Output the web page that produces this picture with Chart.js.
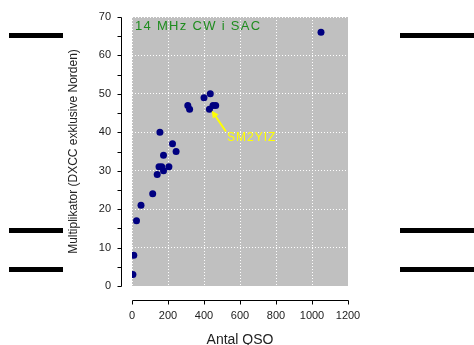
<!DOCTYPE html>
<html>
<head>
<meta charset="utf-8">
<script src="https://cdn.jsdelivr.net/npm/chart.js@4/dist/chart.umd.min.js"></script>
<style>
  html, body { margin: 0; padding: 0; background: #fff; }
  #wrap { position: relative; width: 474px; height: 345px; }
  canvas { position: absolute; left: 0; top: 0; }
  .bar { position: absolute; background: #000; height: 5px; }
</style>
</head>
<body>
<div id="wrap">
  <canvas id="c" width="474" height="345"></canvas>
  <div class="bar" style="left:9px;width:54px;top:33px"></div>
  <div class="bar" style="left:9px;width:54px;top:228px"></div>
  <div class="bar" style="left:9px;width:54px;top:267px"></div>
  <div class="bar" style="left:400px;width:74px;top:33px"></div>
  <div class="bar" style="left:400px;width:74px;top:228px"></div>
  <div class="bar" style="left:400px;width:74px;top:267px"></div>
</div>
<script>
// ---- data ----
const qso  = [5, 10, 25, 50, 115, 140, 150, 165, 175, 205, 155, 175, 225, 245, 310, 320, 400, 435, 430, 450, 465, 1050];
const mult = [3, 8, 17, 21, 24, 29, 31, 31, 30, 31, 40, 34, 37, 35, 47, 46, 49, 50, 46, 47, 47, 66];
const xTicks = [0, 200, 400, 600, 800, 1000, 1200];
const yTicks = [0, 10, 20, 30, 40, 50, 60, 70];
const chartTitle = '14 MHz CW i SAC';
const xTitle = 'Antal QSO';
const yTitle = 'Multiplikator (DXCC exklusive Norden)';
const calloutText = 'SM2YIZ';
const calloutPoint = [430, 46];   // the marked station

// annotation geometry (data coordinates)
const calloutLabelAt = [528, 38.5];
const arrowFrom = [522, 40.2];
const arrowTo = [443, 45.6];

const FONT = "'Liberation Sans', Arial, sans-serif";

const points = qso.map((q, i) => ({ x: q, y: mult[i] }));

const decor = {
  id: 'decor',
  beforeDraw(chart) {
    const { ctx, chartArea: ca } = chart;
    ctx.save();
    ctx.fillStyle = '#c0c0c0';
    ctx.fillRect(ca.left, ca.top, ca.right - ca.left, ca.bottom - ca.top);
    ctx.restore();
  },
  afterDraw(chart) {
    const { ctx, chartArea: ca, scales: { x, y } } = chart;
    ctx.save();
    ctx.strokeStyle = '#000';
    ctx.lineWidth = 1;
    // separated y axis
    const ax = 121.5;
    const yTop = Math.round(y.getPixelForValue(yTicks[yTicks.length - 1])) + 0.5;
    const yBot = Math.round(y.getPixelForValue(yTicks[0])) + 0.5;
    ctx.beginPath();
    ctx.moveTo(ax, yTop); ctx.lineTo(ax, yBot);
    for (let v = yTicks[0]; v <= yTicks[yTicks.length - 1]; v += 5) {
      const py = Math.round(y.getPixelForValue(v)) + 0.5;
      ctx.moveTo(ax - 4, py); ctx.lineTo(ax, py);
    }
    ctx.stroke();
    // separated x axis
    const ay = 300.5;
    const xL = Math.round(x.getPixelForValue(xTicks[0])) + 0.5;
    const xR = Math.round(x.getPixelForValue(xTicks[xTicks.length - 1])) + 0.5;
    ctx.beginPath();
    ctx.moveTo(xL, ay); ctx.lineTo(xR, ay);
    xTicks.forEach(v => {
      const px = Math.round(x.getPixelForValue(v)) + 0.5;
      ctx.moveTo(px, ay); ctx.lineTo(px, ay + 4);
    });
    ctx.stroke();

    // chart title inside plot
    ctx.fillStyle = '#1e8c1e';
    ctx.font = '13px ' + FONT;
    ctx.letterSpacing = '1.3px';
    ctx.textBaseline = 'middle';
    ctx.textAlign = 'left';
    ctx.fillText(chartTitle, ca.left + 3, 26);

    // callout arrow
    const fx = x.getPixelForValue(arrowFrom[0]), fy = y.getPixelForValue(arrowFrom[1]);
    const tx = x.getPixelForValue(arrowTo[0]), ty = y.getPixelForValue(arrowTo[1]);
    ctx.strokeStyle = '#ffff00';
    ctx.fillStyle = '#ffff00';
    ctx.lineWidth = 2;
    const ang = Math.atan2(ty - fy, tx - fx);
    const hl = 7, hw = 3.5;
    const bx = tx - hl * Math.cos(ang), by = ty - hl * Math.sin(ang);
    ctx.beginPath();
    ctx.moveTo(fx, fy); ctx.lineTo(bx, by);
    ctx.stroke();
    ctx.beginPath();
    ctx.moveTo(tx, ty);
    ctx.lineTo(bx + hw * Math.sin(ang), by - hw * Math.cos(ang));
    ctx.lineTo(bx - hw * Math.sin(ang), by + hw * Math.cos(ang));
    ctx.closePath();
    ctx.fill();
    // callout text
    ctx.font = '12px ' + FONT;
    ctx.letterSpacing = '1px';
    ctx.textBaseline = 'middle';
    ctx.fillText(calloutText, x.getPixelForValue(calloutLabelAt[0]), y.getPixelForValue(calloutLabelAt[1]));
    ctx.restore();
  }
};

new Chart(document.getElementById('c'), {
  type: 'scatter',
  data: {
    datasets: [{
      data: points,
      backgroundColor: '#000080',
      borderColor: '#000080',
      borderWidth: 0,
      pointRadius: 3.5,
      pointHoverRadius: 3.5
    }]
  },
  options: {
    responsive: false,
    animation: false,
    events: [],
    layout: { padding: { left: 0, top: 17, right: 126, bottom: 0 } },
    plugins: { legend: { display: false }, tooltip: { enabled: false } },
    scales: {
      x: {
        type: 'linear',
        min: xTicks[0], max: xTicks[xTicks.length - 1],
        afterBuildTicks: s => { s.ticks = xTicks.map(v => ({ value: v })); },
        afterFit: s => { s.height = 59; s.paddingLeft = 0; s.paddingRight = 0; },
        grid: { color: '#ffffff', lineWidth: 1, drawTicks: false },
        border: { display: false, dash: [1, 2] },
        ticks: { padding: 23, color: '#222', font: { family: FONT, size: 11 }, maxRotation: 0, callback: v => String(v) },
        title: { display: true, text: xTitle, color: '#222', font: { family: FONT, size: 14 }, padding: { top: 0, bottom: -4 } }
      },
      y: {
        type: 'linear',
        min: yTicks[0], max: yTicks[yTicks.length - 1],
        afterBuildTicks: s => { s.ticks = yTicks.map(v => ({ value: v })); },
        afterFit: s => { s.width = 132; s.paddingTop = 0; s.paddingBottom = 0; },
        grid: { color: '#ffffff', lineWidth: 1, drawTicks: false },
        border: { display: false, dash: [1, 2] },
        ticks: { padding: 21, color: '#222', font: { family: FONT, size: 11 }, callback: v => String(v) },
        title: { display: true, text: yTitle, color: '#222', font: { family: FONT, size: 12 }, padding: { top: 66, bottom: 0 } }
      }
    }
  },
  plugins: [decor]
});
</script>
</body>
</html>
